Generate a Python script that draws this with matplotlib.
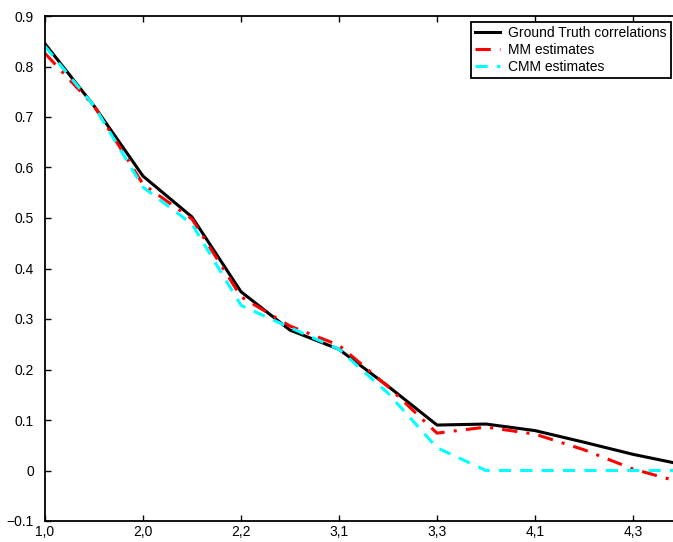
import matplotlib.pyplot as plt
import numpy as np

plt.rcParams['font.family'] = ['Liberation Sans', 'DejaVu Sans']

# correlation at each lag pair, 14 pairs in order
ground_truth = [0.845, 0.722, 0.583, 0.502, 0.354, 0.278, 0.240, 0.167, 0.090,
                0.092, 0.079, 0.056, 0.032, 0.012]
mm_est = [0.826, 0.722, 0.567, 0.498, 0.344, 0.286, 0.248, 0.166, 0.074,
          0.086, 0.072, 0.041, 0.003, -0.024]
cmm_est = [0.840, 0.722, 0.561, 0.488, 0.327, 0.283, 0.240, 0.153, 0.045,
           0.0, 0.0, 0.0, 0.0, 0.0]

tick_labels = ['1,0', '2,0', '2,2', '3,1', '3,3', '4,1', '4,3']

x = np.arange(1, len(ground_truth) + 1)

W, H = 673, 542
fig = plt.figure(figsize=(W / 100, H / 100), dpi=100)
# axes runs slightly past the right edge of the figure
ax = fig.add_axes([45 / W, 1 - 521 / H, 637 / W, 505 / H])

ax.plot(x, ground_truth, color='black', lw=2.2, label='Ground Truth correlations')
ax.plot(x, mm_est, color='red', lw=2.2, ls=(0, (5, 3, 1, 3)), label='MM estimates')
ax.plot(x, cmm_est, color='cyan', lw=2.2, ls=(0, (4, 3)), label='CMM estimates')

ax.set_xlim(1, 14)
ax.set_ylim(-0.1, 0.9)
ax.set_yticks(np.arange(-0.1, 0.91, 0.1))
ax.set_yticklabels(['\u22120.1', '0', '0.1', '0.2', '0.3', '0.4', '0.5', '0.6', '0.7', '0.8', '0.9'])
ax.set_xticks(x[::2])
ax.set_xticklabels(tick_labels)

ax.tick_params(direction='in', length=4.5, width=1, labelsize=10, top=True, right=True)
ax.tick_params(axis='y', pad=8)
ax.tick_params(axis='x', pad=3)
for s in ax.spines.values():
    s.set_linewidth(1.3)

leg = ax.legend(loc='upper right', bbox_to_anchor=(671 / W, 1 - 22 / H),
                bbox_transform=fig.transFigure, borderaxespad=0, fontsize=10,
                fancybox=False, framealpha=1, edgecolor='black', handlelength=1.8,
                labelspacing=0.2, borderpad=0.3, handletextpad=0.6)
leg.get_frame().set_linewidth(1.3)

fig.savefig('out.png', dpi=100)
